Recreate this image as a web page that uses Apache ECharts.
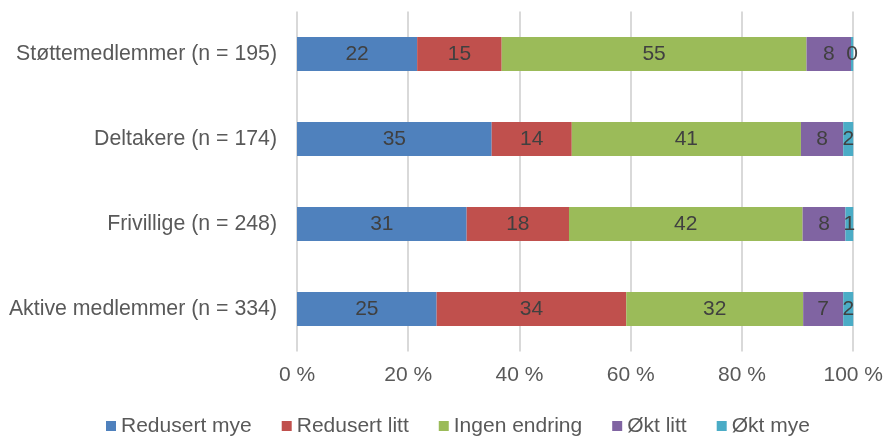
<!DOCTYPE html>
<html>
<head>
<meta charset="utf-8">
<script src="https://cdn.jsdelivr.net/npm/echarts@6/dist/echarts.min.js"></script>
<style>
  html, body { margin: 0; padding: 0; background: #fff; }
  #main { width: 886px; height: 436px; }
</style>
</head>
<body>
<div id="main"></div>
<script>
// kategorier (topp til bunn)
var categories = [
  'Støttemedlemmer (n = 195)',
  'Deltakere (n = 174)',
  'Frivillige (n = 248)',
  'Aktive medlemmer (n = 334)'
]
var seriesNames = ['Redusert mye', 'Redusert litt', 'Ingen endring', 'Økt litt', 'Økt mye']
var colors = ['#4F81BD', '#C0504D', '#9BBB59', '#8064A2', '#4BACC6']

// prosent per kategori, lest av bildet
var redusertMye = [21.6, 35.0, 30.5, 25.1]
var redusertLitt = [15.2, 14.4, 18.4, 34.1]
var ingenEndring = [54.8, 41.2, 42.0, 31.8]
var oktLitt = [8.0, 7.6, 7.7, 7.2]
var oktMye = [0.4, 1.8, 1.4, 1.8]

var xTicks = [0, 20, 40, 60, 80, 100]

var values = [redusertMye, redusertLitt, ingenEndring, oktLitt, oktMye]
var FONT = 'Liberation Sans, Arial, sans-serif'

var chart = echarts.init(document.getElementById('main'))

var series = seriesNames.map(function (name, i) {
  return {
    name: name,
    type: 'bar',
    stack: 'total',
    barWidth: '40%',
    data: values[i],
    itemStyle: { color: colors[i] },
    label: {
      show: true,
      position: 'inside',
      color: '#404040',
      fontFamily: FONT,
      fontSize: 21,
      formatter: function (p) { return Math.round(p.value) }
    }
  }
})

var option = {
  animation: false,
  grid: { left: 297, right: 31.5, top: 11.5, bottom: 84.5 },
  legend: {
    left: 106,
    top: 415,
    itemWidth: 10,
    itemHeight: 10,
    itemGap: 30,
    icon: 'rect',
    padding: 0,
    textStyle: { color: '#595959', fontFamily: FONT, fontSize: 21, lineHeight: 22, padding: 0 },
    data: seriesNames
  },
  xAxis: {
    type: 'value',
    min: xTicks[0],
    max: xTicks[xTicks.length - 1],
    interval: 20,
    axisLine: { show: false },
    axisTick: { show: false },
    splitLine: { show: true, lineStyle: { color: '#D9D9D9', width: 2 } },
    axisLabel: {
      color: '#595959',
      fontFamily: FONT,
      fontSize: 21,
      margin: 13,
      formatter: '{value} %'
    }
  },
  yAxis: {
    type: 'category',
    inverse: true,
    data: categories,
    axisLine: { show: false },
    axisTick: { show: false },
    axisLabel: {
      color: '#595959',
      fontFamily: FONT,
      fontSize: 21.3,
      margin: 20
    }
  },
  series: series
}

chart.setOption(option)
</script>
</body>
</html>
